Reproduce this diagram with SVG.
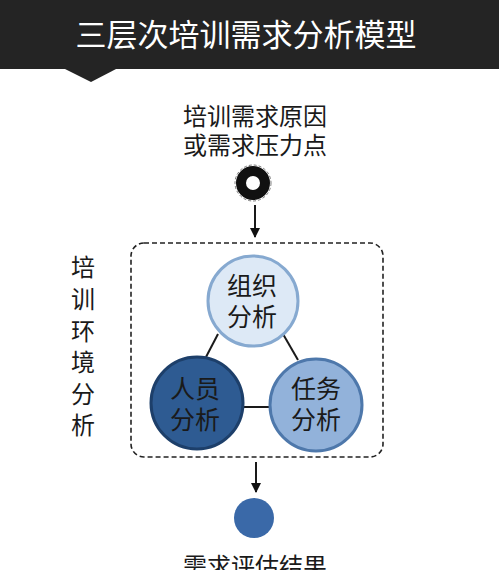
<svg xmlns="http://www.w3.org/2000/svg" width="499" height="570" viewBox="0 0 499 570">
<defs>
<marker id="arr" viewBox="0 0 10 10" refX="9" refY="5" markerWidth="5" markerHeight="5" orient="auto"><path d="M0,0 L10,5 L0,10 z" fill="#111"/></marker>
<style>
.t{font-family:"Noto Sans CJK SC","Liberation Sans",sans-serif;fill:#1a1a1a;text-anchor:middle}
.c{font-size:25px}
.lbl{font-size:24px}
.ln{stroke:#1a1a1a;stroke-width:2;fill:none}
</style>
</defs>
<rect width="499" height="570" fill="#ffffff"/>
<g id="header">
<rect x="0" y="0" width="499" height="69" fill="#242424"/>
<polygon points="63,68 118,68 91,82" fill="#242424"/>
<text x="246" y="46" class="t" style="font-size:31px;fill:#ffffff">三层次培训需求分析模型</text>
</g>
<g id="cause">
<text x="255" y="125" class="t lbl">培训需求原因</text>
<text x="255" y="154" class="t lbl">或需求压力点</text>
<circle cx="253" cy="183" r="12" fill="none" stroke="#111" stroke-width="10"/>
<circle cx="253" cy="183" r="18" fill="none" stroke="#555" stroke-width="0.8" stroke-dasharray="3 2"/>
</g>
<g id="env">
<rect x="131" y="243" width="252" height="214" rx="13" fill="none" stroke="#222" stroke-width="1.6" stroke-dasharray="5 3"/>
<text class="t lbl" x="83" y="276">培</text>
<text class="t lbl" x="83" y="308">训</text>
<text class="t lbl" x="83" y="340">环</text>
<text class="t lbl" x="83" y="371">境</text>
<text class="t lbl" x="83" y="403">分</text>
<text class="t lbl" x="83" y="434">析</text>
</g>
<g id="connectors">
<line class="ln" x1="255" y1="205" x2="255" y2="237" marker-end="url(#arr)"/>
<line class="ln" x1="256" y1="462" x2="256" y2="492" marker-end="url(#arr)"/>
<line class="ln" x1="218" y1="334" x2="206" y2="357"/>
<line class="ln" x1="283" y1="334" x2="298" y2="360"/>
<line class="ln" x1="244" y1="407" x2="269" y2="407"/>
</g>
<g id="org">
<circle cx="253" cy="301" r="45" fill="#dde9f6" stroke="#86a9d0" stroke-width="3"/>
<text class="t c" x="252" y="295">组织</text>
<text class="t c" x="252" y="326">分析</text>
</g>
<g id="person">
<circle cx="197" cy="403" r="46" fill="#2e5b92" stroke="#1d3f6a" stroke-width="3"/>
<text class="t c" x="195" y="398">人员</text>
<text class="t c" x="195" y="429">分析</text>
</g>
<g id="task">
<circle cx="316" cy="405" r="46" fill="#92b2da" stroke="#4e78ab" stroke-width="3"/>
<text class="t c" x="316" y="398">任务</text>
<text class="t c" x="316" y="429">分析</text>
</g>
<g id="result">
<circle cx="254" cy="518" r="20" fill="#3a69a8"/>
<text class="t lbl" x="255" y="575">需求评估结果</text>
</g>
</svg>
